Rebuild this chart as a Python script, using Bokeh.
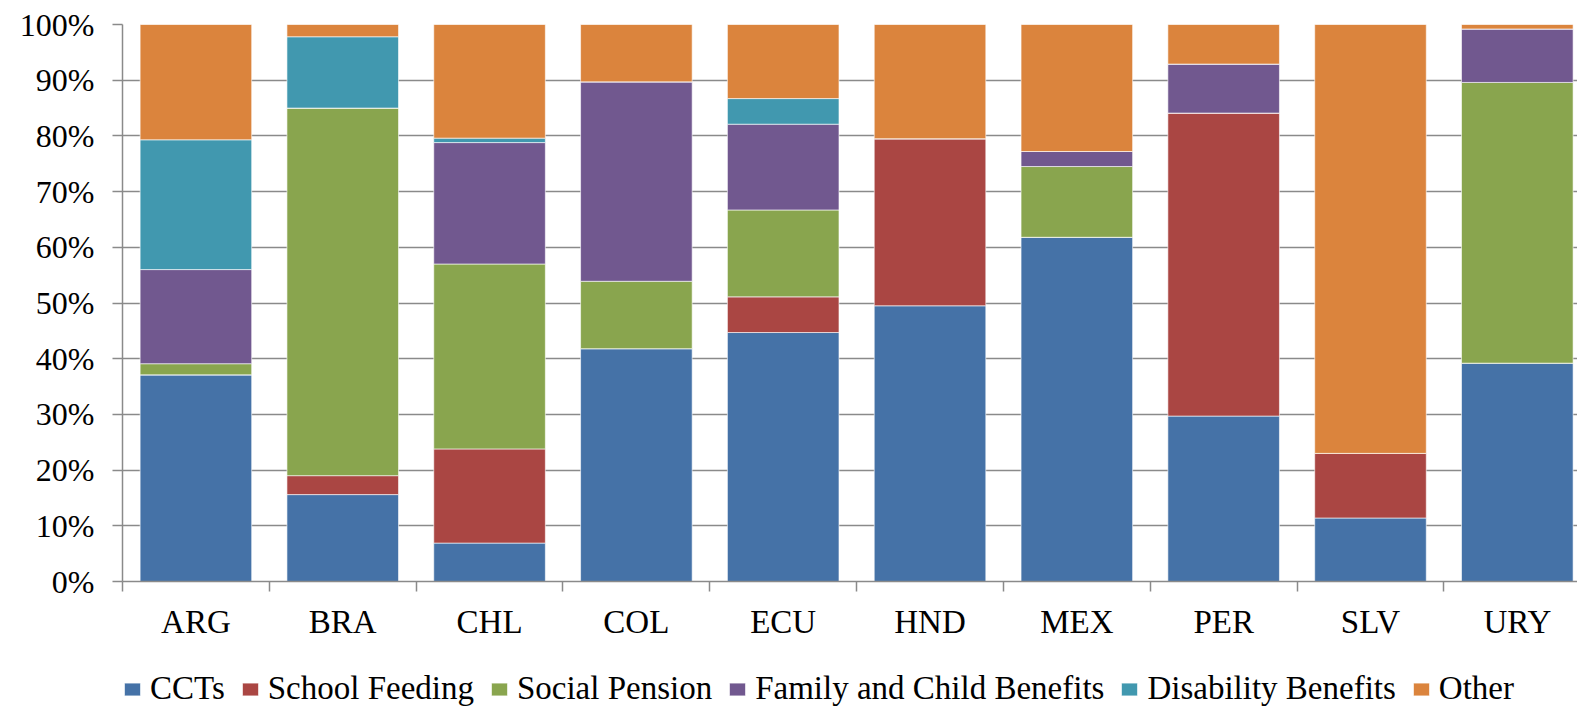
from bokeh.plotting import figure
from bokeh.layouts import column
from bokeh.models import (ColumnDataSource, Range1d, FixedTicker, PrintfTickFormatter,
                          Legend, LegendItem)
from bokeh.embed import file_html
from bokeh.resources import INLINE

# Composition of social assistance spending by programme type (% of total)
countries = ["ARG", "BRA", "CHL", "COL", "ECU", "HND", "MEX", "PER", "SLV", "URY"]
ccts = [37.1, 15.6, 6.9, 41.8, 44.7, 49.5, 61.8, 29.7, 11.4, 39.2]
school_feeding = [0.0, 3.4, 16.9, 0.0, 6.4, 30.0, 0.0, 54.4, 11.6, 0.0]
social_pension = [2.0, 66.0, 33.2, 12.1, 15.6, 0.0, 12.7, 0.0, 0.0, 50.4]
family_child = [16.9, 0.0, 21.8, 35.8, 15.4, 0.0, 2.7, 8.8, 0.0, 9.6]
disability = [23.3, 12.8, 0.8, 0.0, 4.6, 0.0, 0.0, 0.0, 0.0, 0.0]
other = [20.7, 2.2, 20.4, 10.3, 13.3, 20.5, 22.8, 7.1, 77.0, 0.8]

series_names = ["CCTs", "School Feeding", "Social Pension",
                "Family and Child Benefits", "Disability Benefits", "Other"]
y_ticks = [0, 10, 20, 30, 40, 50, 60, 70, 80, 90, 100]

colors = ["#4572A7", "#AA4643", "#89A54E", "#71588F", "#4198AF", "#DB843D"]
keys = ["ccts", "school", "pension", "family", "disability", "other"]

source = ColumnDataSource(dict(
    x=list(range(len(countries))),
    ccts=ccts, school=school_feeding, pension=social_pension,
    family=family_child, disability=disability, other=other,
))

FONT = "Liberation Serif"
GRID = "#8a8a8a"

p = figure(width=1577, height=645, output_backend="svg", toolbar_location=None,
           x_range=Range1d(-0.5, 9.41), y_range=Range1d(0, 100),
           min_border_left=122, min_border_right=0, min_border_top=24,
           min_border_bottom=64)
p.outline_line_color = None
p.background_fill_color = "white"

renderers = p.vbar_stack(keys, x="x", width=0.76, source=source,
                         fill_color=colors, line_color="white", line_width=0.6)

# x axis: labels centred on categories, tick marks at category boundaries
xt = FixedTicker(ticks=list(range(len(countries))),
                 minor_ticks=[i - 0.5 for i in range(len(countries) + 1)])
p.xaxis.ticker = xt
p.xaxis.major_label_overrides = {i: c for i, c in enumerate(countries)}
p.xaxis.major_tick_out = 0
p.xaxis.major_tick_in = 0
p.xaxis.minor_tick_out = 10
p.xaxis.minor_tick_in = 0
p.xaxis.minor_tick_line_color = GRID
p.xaxis.minor_tick_line_width = 1.5
p.xaxis.axis_line_color = GRID
p.xaxis.axis_line_width = 1.5
p.xaxis.major_label_text_font = FONT
p.xaxis.major_label_text_font_size = "33px"
p.xaxis.major_label_text_color = "black"
p.xaxis.major_label_standoff = 12
p.xgrid.grid_line_color = None

# y axis: percentage share
p.yaxis.ticker = FixedTicker(ticks=y_ticks)
p.yaxis.formatter = PrintfTickFormatter(format="%d%%")
p.yaxis.major_tick_out = 10
p.yaxis.major_tick_in = 0
p.yaxis.minor_tick_line_color = None
p.yaxis.major_tick_line_color = GRID
p.yaxis.major_tick_line_width = 1.5
p.yaxis.axis_line_color = GRID
p.yaxis.axis_line_width = 1.5
p.yaxis.major_label_text_font = FONT
p.yaxis.major_label_text_font_size = "32px"
p.yaxis.major_label_text_color = "black"
p.yaxis.major_label_standoff = 18
p.ygrid.grid_line_color = GRID
p.ygrid.grid_line_width = 1.5

# legend strip underneath the chart; its key renderers sit outside the visible range
leg = figure(width=1577, height=64, output_backend="svg", toolbar_location=None,
             x_range=Range1d(0, 1577), y_range=Range1d(0, 64),
             x_axis_type=None, y_axis_type=None, min_border=0)
leg.outline_line_color = None
leg.grid.visible = False
keys_r = [leg.vbar(x=[-100], top=[0], width=1, fill_color=c,
                   line_color="white", line_width=0.6)
          for c in colors]

legend = Legend(
    items=[LegendItem(label=n, renderers=[r]) for n, r in zip(series_names, keys_r)],
    orientation="horizontal", location=(0, 2),
    label_text_font=FONT, label_text_font_size="33px", label_text_color="black",
    glyph_width=20, glyph_height=16, label_standoff=8, spacing=15,
    padding=0, margin=0, border_line_color=None, background_fill_alpha=0,
)
leg.add_layout(legend, "center")

layout = column(p, leg, spacing=0)
open("out.html", "w").write(file_html(layout, INLINE))
